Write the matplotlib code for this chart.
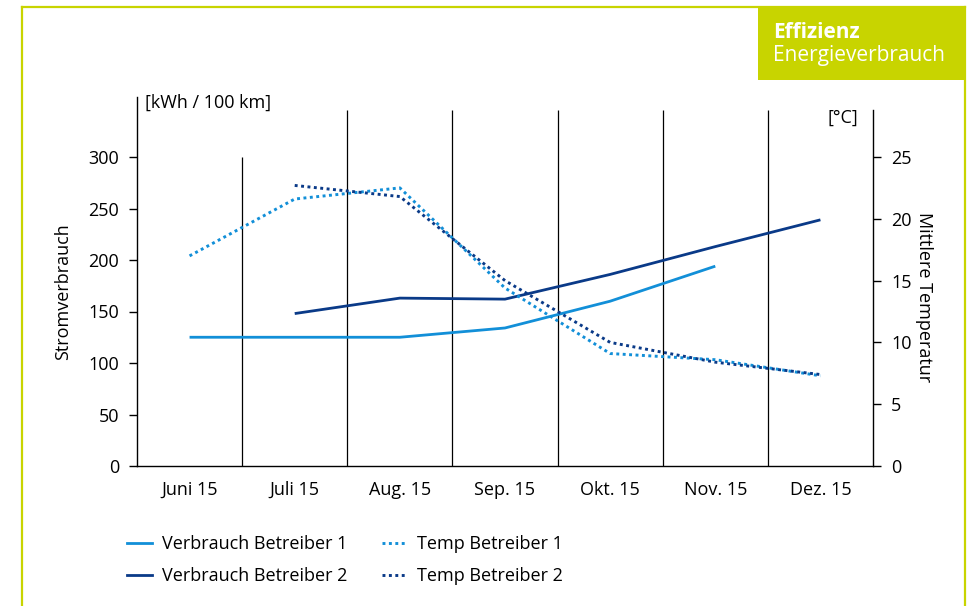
import numpy as np
import matplotlib
matplotlib.use("Agg")
import matplotlib.pyplot as plt
from matplotlib.lines import Line2D
from matplotlib.patches import Rectangle

plt.rcParams['font.family'] = ['Open Sans', 'DejaVu Sans']

months = ["Juni 15", "Juli 15", "Aug. 15", "Sep. 15", "Okt. 15", "Nov. 15", "Dez. 15"]
verbrauch_1 = [125, 125, 125, 134, 160, 194, np.nan]
verbrauch_2 = [np.nan, 148, 163, 162, 186, 213, 239]
temp_1 = [17.0, 21.6, 22.5, 14.4, 9.1, 8.6, 7.3]
temp_2 = [np.nan, 22.7, 21.8, 15.0, 10.0, 8.4, 7.4]
left_ticks = [0, 50, 100, 150, 200, 250, 300]
right_ticks = [0, 5, 10, 15, 20, 25]

LIGHT = "#128fd8"
DARK = "#0a3a88"
GREEN = "#c8d400"
FS = 13

W, H = 973, 606
fig = plt.figure(figsize=(W / 100, H / 100), dpi=100)

x0, x1, yb, yt = 137, 873, 466, 97
ax = fig.add_axes([x0 / W, 1 - yb / H, (x1 - x0) / W, (yb - yt) / H])
ax2 = ax.twinx()

px_per_unit = (466 - 157) / 300.0
px_per_deg = (466 - 157) / 25.0
ax.set_ylim(0, (yb - yt) / px_per_unit)
ax2.set_ylim(0, (yb - yt) / px_per_deg)
ax.set_xlim(-0.5, len(months) - 0.5)

x = np.arange(len(months))

# separators
top_sep = (466 - 110) / px_per_unit
for i in range(len(months) - 1):
    top = 300 if i == 0 else top_sep
    ax.vlines(i + 0.5, 0, top, color="black", lw=0.9, zorder=1)

ax.plot(x, verbrauch_1, color=LIGHT, lw=2.0, solid_capstyle="butt", zorder=3)
ax.plot(x, verbrauch_2, color=DARK, lw=2.0, solid_capstyle="butt", zorder=3)
ax2.plot(x, temp_1, color=LIGHT, lw=2.1, linestyle=(0, (1, 1.2)), zorder=3)
ax2.plot(x, temp_2, color=DARK, lw=2.1, linestyle=(0, (1, 1.2)), zorder=3)

for a in (ax, ax2):
    a.spines["top"].set_visible(False)
    a.patch.set_visible(False)
ax.spines["right"].set_visible(False)
ax2.spines["left"].set_visible(False)
ax2.spines["bottom"].set_visible(False)
ax2.spines["right"].set_bounds(0, (466 - 110) / px_per_deg)
for s in ["left", "bottom"]:
    ax.spines[s].set_linewidth(1.0)
ax2.spines["right"].set_linewidth(1.0)

ax.set_xticks(x)
ax.set_xticklabels(months)
ax.tick_params(axis="x", length=0, pad=11, labelsize=FS)
ax.set_yticks(left_ticks)
ax.tick_params(axis="y", length=6, width=1.0, pad=7, labelsize=FS)
ax2.set_yticks(right_ticks)
ax2.tick_params(axis="y", length=6, width=1.0, pad=7, labelsize=FS)

ax.text(145 / W, 1 - 103 / H, "[kWh / 100 km]", transform=fig.transFigure,
        fontsize=FS, ha="left", va="center")
ax.text(858 / W, 1 - 118 / H, "[°C]", transform=fig.transFigure,
        fontsize=FS, ha="right", va="center")

fig.text(63 / W, 1 - 292 / H, "Stromverbrauch", rotation=90, fontsize=FS,
         ha="center", va="center")
fig.text(924 / W, 1 - 297 / H, "Mittlere Temperatur", rotation=-90, fontsize=FS,
         ha="center", va="center")

handles = [
    Line2D([], [], color=LIGHT, lw=2.0),
    Line2D([], [], color=DARK, lw=2.0),
    Line2D([], [], color=LIGHT, lw=2.1, linestyle=(0, (1, 1.2))),
    Line2D([], [], color=DARK, lw=2.1, linestyle=(0, (1, 1.2))),
]
labels = ["Verbrauch Betreiber 1", "Verbrauch Betreiber 2",
          "Temp Betreiber 1", "Temp Betreiber 2"]
fig.legend(handles, labels, ncol=2, frameon=False, fontsize=FS,
           loc="upper left", bbox_to_anchor=(127 / W, 1 - 535 / H),
           handlelength=1.4, handletextpad=0.55, columnspacing=1.9,
           labelspacing=0.8, borderpad=0, borderaxespad=0)

# frame
lw = 1.6
fig.add_artist(Line2D([22 / W, 22 / W], [0, 1 - 7 / H], color=GREEN, lw=lw,
                      transform=fig.transFigure))
fig.add_artist(Line2D([22 / W, 965 / W], [1 - 7 / H, 1 - 7 / H], color=GREEN, lw=lw,
                      transform=fig.transFigure))
fig.add_artist(Line2D([965 / W, 965 / W], [0, 1 - 7 / H], color=GREEN, lw=lw,
                      transform=fig.transFigure))
fig.add_artist(Rectangle((758 / W, 1 - 80 / H), (965 - 758) / W, (80 - 7) / H,
                         facecolor=GREEN, edgecolor="none", transform=fig.transFigure))
fig.text(773 / W, 1 - 33 / H, "Effizienz", color="white", fontsize=15,
         fontweight="bold", ha="left", va="center")
fig.text(773 / W, 1 - 56 / H, "Energieverbrauch", color="white", fontsize=15,
         ha="left", va="center")

fig.savefig("out.png", dpi=100)
